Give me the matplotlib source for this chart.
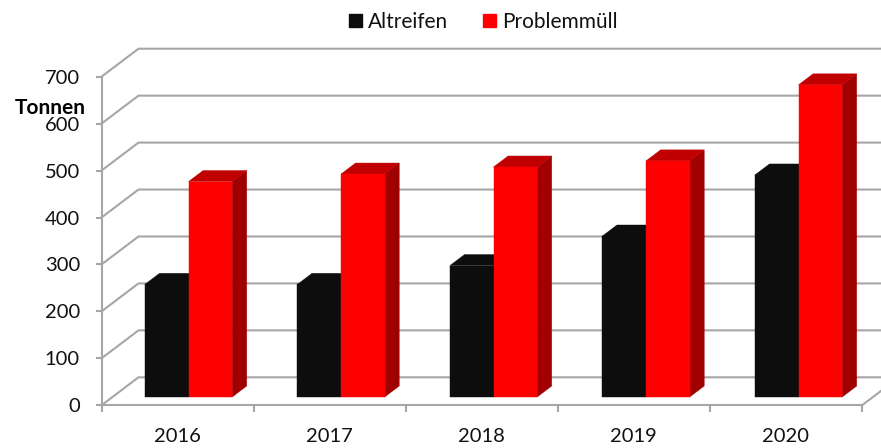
import matplotlib.pyplot as plt
from matplotlib.patches import Patch

plt.rcParams['font.family'] = ['Lato', 'DejaVu Sans']

# Data
years = ["2016", "2017", "2018", "2019", "2020"]
altreifen = [240, 240, 280, 343, 473]
problemmuell = [459, 475, 490, 503, 665]
y_ticks = [0, 100, 200, 300, 400, 500, 600, 700]

# Fake 3D: oblique offset of the back wall, in data units
wall_dx = 37 / 152.1
wall_dy = 28 / 46.95 * 100
bar_start = 0.296   # depth where the bars begin
bar_depth = 0.393
bar_width = 0.2867
bar_gap = 0.2137
bar_step = 1.0026

grid_color = '#a6a6a6'

fig = plt.figure(figsize=(8.81, 4.48), dpi=100)
ax = fig.add_axes([101.5 / 881, 1 - 405.3 / 448, (862 - 101.5) / 881, (405.3 - 76.7) / 448])
ax.set_xlim(0, len(years))
ax.set_ylim(0, 700)


def draw_bar(x, value, front, top, side):
    x0 = x + bar_start * wall_dx
    y0 = bar_start * wall_dy
    x1 = x0 + bar_width
    ddx = bar_depth * wall_dx
    ddy = bar_depth * wall_dy
    # thin edge in the fill colour closes the seams between the faces
    ax.fill([x1, x1 + ddx, x1 + ddx, x1], [y0, y0 + ddy, y0 + value + ddy, y0 + value],
            color=side, lw=0.3, clip_on=False, zorder=3)
    ax.fill([x0, x1, x1 + ddx, x0 + ddx],
            [y0 + value, y0 + value, y0 + value + ddy, y0 + value + ddy],
            color=top, lw=0.3, clip_on=False, zorder=3)
    ax.fill([x0, x1, x1, x0], [y0, y0, y0 + value, y0 + value],
            color=front, lw=0.3, clip_on=False, zorder=3)


# Back wall and floor lines
for v in y_ticks:
    ax.plot([0, wall_dx, len(years) + wall_dx], [v, v + wall_dy, v + wall_dy],
            color=grid_color, lw=1.5, clip_on=False, zorder=1)
ax.plot([len(years), len(years) + wall_dx], [0, wall_dy],
        color=grid_color, lw=1.5, clip_on=False, zorder=1)

for i in range(len(years)):
    draw_bar(i * bar_step + bar_gap, altreifen[i], '#0d0d0d', '#0d0d0d', '#0d0d0d')
    draw_bar(i * bar_step + bar_gap + bar_width, problemmuell[i], '#ff0000', '#c00000', '#a00000')

for s in ['top', 'right']:
    ax.spines[s].set_visible(False)
for s in ['left', 'bottom']:
    ax.spines[s].set_color(grid_color)
    ax.spines[s].set_linewidth(1.5)
    ax.spines[s].set_zorder(2)

ax.set_yticks(y_ticks)
ax.tick_params(axis='y', length=4.5, width=1.5, color=grid_color, labelsize=14.5, pad=11,
               labelcolor='#111111')
ax.set_xticks(range(len(years) + 1))
ax.set_xticklabels([])
ax.tick_params(axis='x', which='major', length=5, width=1.5, color=grid_color)
ax.set_xticks([i + 0.5 for i in range(len(years))], minor=True)
ax.set_xticklabels(years, minor=True)
ax.tick_params(axis='x', which='minor', length=0, labelsize=14.5, pad=16, labelcolor='#111111')

fig.text(86 / 881, 1 - 107.5 / 448, "Tonnen", ha='right', va='center',
         fontsize=15, fontweight='bold', color='black')

handles = [Patch(color='#0d0d0d', label='Altreifen'), Patch(color='#ff0000', label='Problemmüll')]
fig.legend(handles=handles, ncol=2, frameon=False, loc='center',
           bbox_to_anchor=(483.5 / 881, 1 - 22 / 448), fontsize=15,
           handlelength=0.62, handleheight=0.62, handletextpad=0.3, columnspacing=1.67,
           labelcolor='#111111')

fig.savefig('out.png', dpi=100)
